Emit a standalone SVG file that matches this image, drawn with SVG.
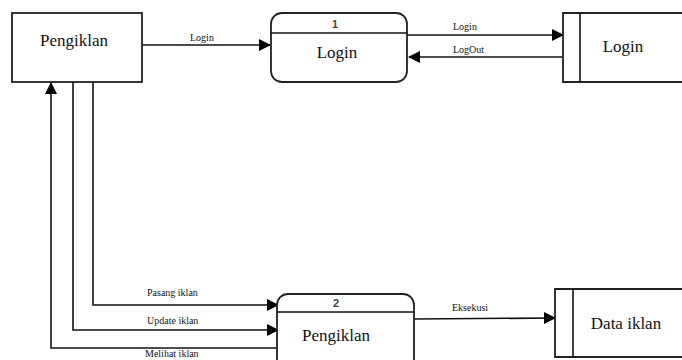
<svg xmlns="http://www.w3.org/2000/svg" width="682" height="360" viewBox="0 0 682 360">
<style>
.box{fill:#fff;stroke:#222;stroke-width:1.8}
.ln{fill:none;stroke:#111;stroke-width:1.6}
.big{font-family:"Liberation Serif",serif;font-size:17px;fill:#111}
.sm{font-family:"Liberation Serif",serif;font-size:10px;fill:#111}
.num{font-family:"Liberation Sans",sans-serif;font-size:11px;font-weight:bold;fill:#444}
</style>
<defs>
<marker id="ah" markerWidth="12" markerHeight="12" refX="11" refY="6" orient="auto" markerUnits="userSpaceOnUse">
<path d="M0,0 L12,6 L0,12 Z" fill="#000"/>
</marker>
</defs>
<g id="connectors">
<line class="ln" x1="142" y1="45" x2="270" y2="45" marker-end="url(#ah)"/>
<text class="sm" x="190" y="41">Login</text>
<line class="ln" x1="407" y1="35" x2="563" y2="35" marker-end="url(#ah)"/>
<text class="sm" x="453" y="30">Login</text>
<line class="ln" x1="563" y1="57" x2="409" y2="57" marker-end="url(#ah)"/>
<text class="sm" x="453" y="53">LogOut</text>
<polyline class="ln" points="93,82 93,305 278,305" marker-end="url(#ah)"/>
<text class="sm" x="147" y="296">Pasang iklan</text>
<polyline class="ln" points="73,82 73,330 278,330" marker-end="url(#ah)"/>
<text class="sm" x="147" y="324">Update iklan</text>
<polyline class="ln" points="278,348 51,348 51,83" marker-end="url(#ah)"/>
<text class="sm" x="145" y="357">Melihat iklan</text>
<line class="ln" x1="414" y1="319" x2="555" y2="318" marker-end="url(#ah)"/>
<text class="sm" x="452" y="311">Eksekusi</text>
</g>
<g id="pengiklan">
<rect class="box" x="12" y="13" width="130" height="69"/>
<text class="big" x="74" y="46" text-anchor="middle">Pengiklan</text>
</g>
<g id="proc1">
<rect class="box" x="271" y="13" width="136" height="69" rx="11"/>
<line class="ln" x1="271" y1="33" x2="407" y2="33"/>
<text class="num" x="335" y="28" text-anchor="middle">1</text>
<text class="big" x="337" y="58" text-anchor="middle">Login</text>
</g>
<g id="store-login">
<polyline class="box" points="690,13 563,13 563,82 690,82"/>
<line class="ln" x1="580" y1="13" x2="580" y2="82"/>
<text class="big" x="623" y="52" text-anchor="middle">Login</text>
</g>
<g id="proc2">
<rect class="box" x="277" y="294" width="137" height="80" rx="11"/>
<line class="ln" x1="277" y1="312" x2="414" y2="312"/>
<text class="num" x="336" y="307" text-anchor="middle">2</text>
<text class="big" x="336" y="341" text-anchor="middle">Pengiklan</text>
</g>
<g id="store-data">
<polyline class="box" points="690,289 555,289 555,357 690,357"/>
<line class="ln" x1="573" y1="289" x2="573" y2="357"/>
<text class="big" x="626" y="329" text-anchor="middle">Data iklan</text>
</g>
</svg>
